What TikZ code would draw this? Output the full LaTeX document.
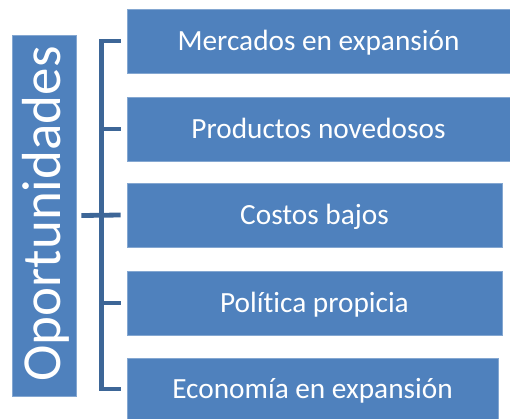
\documentclass[tikz,border=0pt]{standalone}
\usepackage{fontspec}
\setmainfont{Carlito}[Ligatures=NoCommon]
\usetikzlibrary{calc}
\definecolor{boxblue}{HTML}{4F81BD}
\definecolor{brackblue}{HTML}{3D6697}
\begin{document}
\begin{tikzpicture}[x=1pt,y=-1pt,
  itembox/.style={fill=boxblue, draw=boxblue!70!white, line width=0.6pt, inner sep=0pt, text=white,
    font=\fontsize{29.3}{31}\selectfont, text height=18.9pt, text depth=0pt},
  bracket/.style={draw=brackblue, line width=4.8pt, line cap=butt, line join=miter}]
\useasboundingbox (0,0) rectangle (510,418);
% left title box
\node[fill=boxblue, draw=boxblue!70!white, line width=0.6pt, minimum width=64pt, minimum height=361pt, inner sep=0pt] (opp) at (44,215.5) {};
\node[rotate=90, text=white, font=\fontsize{55}{60}\selectfont, text height=35.4pt, text depth=0pt, inner sep=0pt] (oppt) at (42.5,214) {Oportunidades};
% right boxes
\node[itembox, minimum width=383pt, minimum height=64pt] (b1) at (318.5,41) {};
\node[itembox, minimum width=383pt, minimum height=64pt] (b2) at (318.5,129) {};
\node[itembox, minimum width=375pt, minimum height=64pt] (b3) at (314.5,215) {};
\node[itembox, minimum width=375pt, minimum height=64pt] (b4) at (314.5,303) {};
\node[itembox, minimum width=371pt, minimum height=62pt] (b5) at (312.5,389) {};
\node[itembox, fill=none, draw=none] (t1) at (b1.center) {Mercados en expansión};
\node[itembox, fill=none, draw=none] (t2) at (b2.center) {Productos novedosos};
\node[itembox, fill=none, draw=none] (t3) at (b3.center) {Costos bajos};
\node[itembox, fill=none, draw=none] (t4) at (b4.center) {Política propicia};
\node[itembox, fill=none, draw=none] (t5) at (b5.center) {Economía en expansión};
% bracket
\coordinate (spine) at (101.7,0);
\coordinate (root) at ($(opp.east)+(5,0)$);
\path[bracket] ([xshift=-6pt]b1.west) -- (spine |- b1.west) -- (spine |- b5.west) -- ([xshift=-6pt]b5.west);
\path[bracket] (root) -- ([xshift=-6pt]b3.west);
\path[bracket] (spine |- b2.west) -- ([xshift=-6pt]b2.west);
\path[bracket] (spine |- b4.west) -- ([xshift=-6pt]b4.west);
\end{tikzpicture}
\end{document}
